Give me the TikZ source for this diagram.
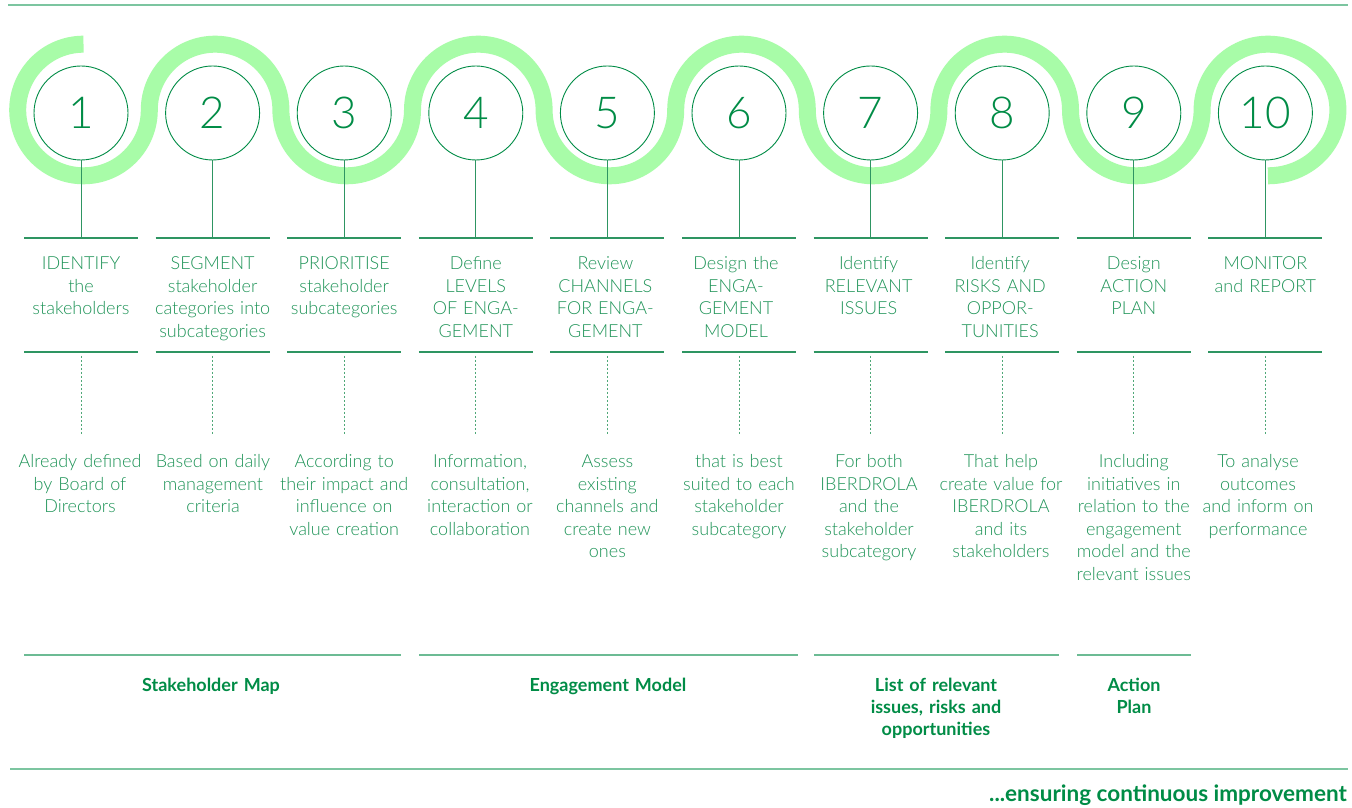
\documentclass[tikz,border=0pt]{standalone}
\usepackage{fontspec}
\setmainfont{Lato}
\newfontfamily\lightfont{Lato Light}
\definecolor{ig}{HTML}{008C46}
\definecolor{band}{HTML}{A8FCA8}
\definecolor{rulec}{HTML}{2E9562}
\definecolor{framec}{HTML}{7CC5A0}
\definecolor{txt}{HTML}{1F9458}
\definecolor{dotc}{HTML}{4FA878}
\begin{document}
\begin{tikzpicture}[x=1pt,y=1pt,
  numc/.style={circle, draw=ig, line width=0.9pt, minimum size=94pt, inner sep=0pt,
    font=\lightfont\fontsize{44}{44}\selectfont, text=ig},
  head/.style={text width=150pt, align=center, inner sep=0pt,
    font=\lightfont\fontsize{18}{22.5}\selectfont, text=txt, anchor=base},
  grp/.style={text width=200pt, align=center, inner sep=0pt,
    font=\bfseries\fontsize{18}{22}\selectfont, text=ig, anchor=base},
  sepline/.style={draw=rulec, line width=1.3pt},
  grpline/.style={draw=framec!80!rulec, line width=1.4pt},
  frameline/.style={draw=framec, line width=2pt},
  dotline/.style={draw=dotc, line width=1pt, dash pattern=on 2pt off 2pt},
  bandline/.style={draw=band, line width=17pt}
]
\useasboundingbox[fill=white] (0,0) rectangle (1352,808);

% frame lines
\coordinate (tl) at (8,803); \coordinate (tr) at (1348,803);
\coordinate (bl) at (10,39); \coordinate (br) at (1348,39);
\draw[frameline] (tl) -- (tr);
\draw[frameline] (bl) -- (br);

% wave band
\coordinate (w0) at (83.5,763.8);
\draw[bandline] (w0)
  arc[start angle=90,end angle=360,radius=65.8]
  arc[start angle=180,end angle=0,radius=65.8]
  arc[start angle=180,end angle=360,radius=65.8]
  arc[start angle=180,end angle=0,radius=65.8]
  arc[start angle=180,end angle=360,radius=65.8]
  arc[start angle=180,end angle=0,radius=65.8]
  arc[start angle=180,end angle=360,radius=65.8]
  arc[start angle=180,end angle=0,radius=65.8]
  arc[start angle=180,end angle=360,radius=65.8]
  arc[start angle=180,end angle=90,radius=65.8]
  arc[start angle=90,end angle=-90,x radius=70,y radius=65.8];

% circles, stems, separators, dotted lines
\foreach \i in {1,...,10}{
  \pgfmathsetmacro\cx{81+131.6*(\i-1)}
  \node[numc] (c\i) at (\cx,695) {\i};
  \coordinate (t\i) at (\cx,570);
  \coordinate (tL\i) at (\cx-57,570);
  \coordinate (tR\i) at (\cx+57,570);
  \coordinate (sL\i) at (\cx-57,456);
  \coordinate (sR\i) at (\cx+57,456);
  \coordinate (d\i) at (\cx,452);
  \coordinate (e\i) at (\cx,373);
  \draw[sepline, line width=1pt] (c\i.south) -- (t\i);
  \draw[sepline] (tL\i) -- (tR\i);
  \draw[sepline] (sL\i) -- (sR\i);
  \draw[dotline] (d\i) -- (e\i);
}

% headings
\node[head] (h1) at (81,538) {IDENTIFY\\the\\stakeholders};
\node[head] (h2) at (212.6,538) {SEGMENT\\stakeholder\\categories into\\subcategories};
\node[head] (h3) at (344.2,538) {PRIORITISE\\stakeholder\\subcategories};
\node[head] (h4) at (475.8,538) {Define\\LEVELS\\OF ENGA-\\GEMENT};
\node[head] (h5) at (605.4,538) {Review\\CHANNELS\\FOR ENGA-\\GEMENT};
\node[head] (h6) at (736,538) {Design the\\ENGA-\\GEMENT\\MODEL};
\node[head] (h7) at (868.6,538) {Identify\\RELEVANT\\ISSUES};
\node[head] (h8) at (1000.2,538) {Identify\\RISKS AND\\OPPOR-\\TUNITIES};
\node[head] (h9) at (1133.8,538) {Design\\ACTION\\PLAN};
\node[head] (h10) at (1265.4,538) {MONITOR\\and REPORT};

% descriptions
\node[head] (p1) at (80,340) {Already defined\\by Board of\\Directors};
\node[head] (p2) at (213,340) {Based on daily\\management\\criteria};
\node[head] (p3) at (344.2,340) {According to\\their impact and\\influence on\\value creation};
\node[head] (p4) at (480,340) {Information,\\consultation,\\interaction or\\collaboration};
\node[head] (p5) at (607.4,340) {Assess\\existing\\channels and\\create new\\ones};
\node[head] (p6) at (739,340) {that is best\\suited to each\\stakeholder\\subcategory};
\node[head] (p7) at (869,340) {For both\\IBERDROLA\\and the\\stakeholder\\subcategory};
\node[head] (p8) at (1001,340) {That help\\create value for\\IBERDROLA\\and its\\stakeholders};
\node[head] (p9) at (1133.8,340) {Including\\initiatives in\\relation to the\\engagement\\model and the\\relevant issues};
\node[head] (p10) at (1258,340) {To analyse\\outcomes\\and inform on\\performance};

% group lines
\coordinate (g1a) at (24,153); \coordinate (g1b) at (401,153);
\coordinate (g2a) at (419,153); \coordinate (g2b) at (798,153);
\coordinate (g3a) at (814,153); \coordinate (g3b) at (1059,153);
\coordinate (g4a) at (1077,153); \coordinate (g4b) at (1191,153);
\draw[grpline] (g1a) -- (g1b);
\draw[grpline] (g2a) -- (g2b);
\draw[grpline] (g3a) -- (g3b);
\draw[grpline] (g4a) -- (g4b);

\node[grp] (k1) at (211,116) {Stakeholder Map};
\node[grp] (k2) at (608,116) {Engagement Model};
\node[grp] (k3) at (936,116) {List of relevant\\issues, risks and\\opportunities};
\node[grp] (k4) at (1134,116) {Action\\Plan};

\node[anchor=base east, inner sep=0pt, font=\bfseries\fontsize{22.5}{26}\selectfont, text=ig]
  (ens) at (1347,6) {...ensuring continuous improvement};
\end{tikzpicture}
\end{document}
